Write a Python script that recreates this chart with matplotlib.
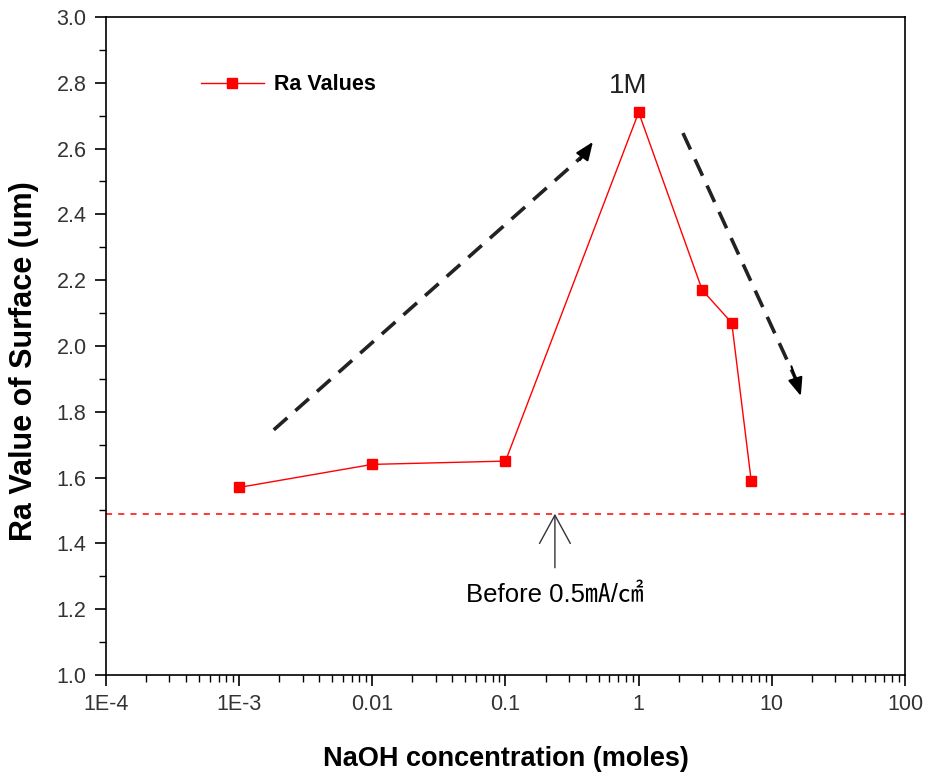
import matplotlib
matplotlib.use("Agg")
import matplotlib.pyplot as plt
from matplotlib.ticker import FixedLocator, LogLocator, MultipleLocator, NullFormatter

plt.rcParams["font.family"] = ["Liberation Sans", "Noto Sans CJK KR", "DejaVu Sans"]

conc = [1e-3, 0.01, 0.1, 1, 3, 5, 7]
ra = [1.57, 1.64, 1.65, 2.71, 2.17, 2.07, 1.59]
baseline = 1.49
xticks = [1e-4, 1e-3, 0.01, 0.1, 1, 10, 100]
xticklabels = ["1E-4", "1E-3", "0.01", "0.1", "1", "10", "100"]

red = "#ff0000"

fig = plt.figure(figsize=(9.27, 7.76), dpi=100)
ax = fig.add_axes([0.1143, 0.1302, 0.862, 0.848])

ax.plot(conc, ra, color=red, lw=1.0, marker="s", ms=7.8, mec=red, mfc=red, label="Ra Values")
ax.axhline(baseline, color=red, lw=1.1, ls=(0, (4, 4)))

ax.set_xscale("log")
ax.set_xlim(1e-4, 100)
ax.set_ylim(1.0, 3.0)

ax.xaxis.set_major_locator(FixedLocator(xticks))
ax.set_xticklabels(xticklabels)
ax.xaxis.set_minor_locator(LogLocator(base=10, subs=range(2, 10)))
ax.xaxis.set_minor_formatter(NullFormatter())
ax.yaxis.set_major_locator(MultipleLocator(0.2))
ax.yaxis.set_minor_locator(MultipleLocator(0.1))
ax.yaxis.set_major_formatter(plt.FuncFormatter(lambda v, p: f"{v:.1f}"))

ax.tick_params(which="both", direction="out", top=False, right=False, labelsize=15.5, colors="black")
ax.tick_params(which="major", length=8, width=1.2, pad=6)
ax.tick_params(which="minor", length=5, width=1.0)
for lbl in ax.get_xticklabels() + ax.get_yticklabels():
    lbl.set_color("#333333")
for s in ax.spines.values():
    s.set_linewidth(1.2)

ax.set_xlabel("NaOH concentration (moles)", fontsize=19.5, fontweight="bold", labelpad=22)
ax.set_ylabel("Ra Value of Surface (um)", fontsize=22, fontweight="bold")
ax.yaxis.set_label_coords(-0.084, 0.477)

leg = ax.legend(loc="center left", bbox_to_anchor=(0.095, 0.897), frameon=False, handlelength=2.9,
                handletextpad=0.5, prop={"weight": "bold", "size": 15.5})

# trend arrows (dashed shaft + solid head)
trends = [((0.00182, 1.745), (0.453, 2.62)), ((2.15, 2.647), (16.5, 1.848))]
for (x0, y0), (x1, y1) in trends:
    ax.plot([x0, x1 * 0.88 if x1 < 1 else x1 * 0.92], [y0, y1 - 0.035 if y1 > y0 else y1 + 0.05],
            color="#222222", lw=2.6, ls=(0, (5, 3)))
    ax.annotate("", xy=(x1, y1), xytext=(x1 * 0.8 if x1 < 1 else x1 * 0.85,
                                         y1 - 0.055 if y1 > y0 else y1 + 0.09),
                arrowprops=dict(arrowstyle="-|>,head_length=1.1,head_width=0.45", color="black", lw=1.5,
                                shrinkA=0, shrinkB=0))

ax.text(0.84, 2.75, "1M", fontsize=20, ha="center", va="bottom", color="#222222")

ax.annotate("Before 0.5㎃/㎠", xy=(0.235, baseline), xytext=(0.235, 1.243),
            ha="center", va="center", fontsize=18.5, color="black",
            arrowprops=dict(arrowstyle="->,head_length=1.1,head_width=0.6", color="#333333", lw=1.0,
                            shrinkA=9, shrinkB=0))

fig.savefig("out.png", dpi=100)
